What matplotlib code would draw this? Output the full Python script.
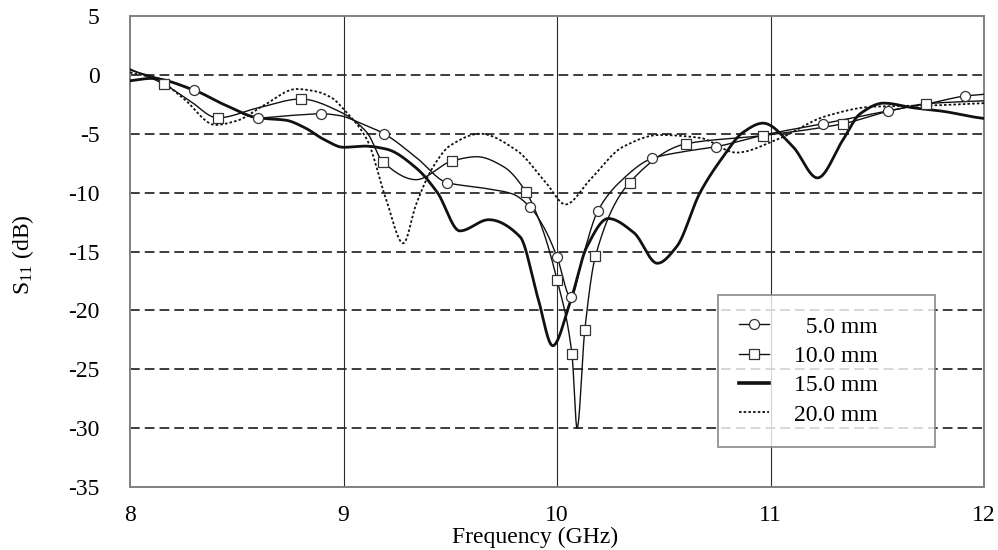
import numpy as np
import matplotlib
matplotlib.use("Agg")
import matplotlib.pyplot as plt
from matplotlib.lines import Line2D

plt.rcParams['font.family'] = ['Liberation Serif', 'DejaVu Serif']
plt.rcParams['mathtext.fontset'] = 'custom'
plt.rcParams['mathtext.rm'] = 'Liberation Serif'
plt.rcParams['mathtext.it'] = 'Liberation Serif:italic'
plt.rcParams['axes.unicode_minus'] = False

# ---- measured S11 curves (frequency in GHz, S11 in dB) ----
f_5mm = [8.00, 8.12, 8.30, 8.45, 8.60, 8.75, 8.895, 8.98, 9.08, 9.19, 9.34, 9.485,
         9.65, 9.79, 9.875, 9.94, 10.00, 10.065, 10.12, 10.19, 10.30, 10.445, 10.60,
         10.745, 10.97, 11.245, 11.40, 11.55, 11.75, 11.91, 12.00]
s_5mm = [0.4, -0.2, -1.25, -2.6, -3.65, -3.45, -3.3, -3.45, -4.1, -5.0, -7.0, -9.15,
         -9.6, -10.1, -11.25, -13.0, -15.45, -18.9, -15.5, -11.6, -9.0, -7.1, -6.5,
         -6.1, -5.1, -4.15, -3.6, -3.05, -2.4, -1.8, -1.65]
mark_5mm = [2, 4, 6, 9, 11, 14, 16, 17, 19, 21, 23, 25, 27, 29]

f_10mm = [8.00, 8.16, 8.28, 8.41, 8.60, 8.80, 8.98, 9.11, 9.185, 9.34, 9.51, 9.625,
          9.75, 9.855, 9.93, 10.00, 10.07, 10.094, 10.13, 10.18, 10.34, 10.605,
          10.965, 11.34, 11.55, 11.73, 12.00]
s_10mm = [0.5, -0.8, -2.2, -3.65, -2.8, -2.05, -3.1, -4.9, -7.4, -8.9, -7.3, -6.95,
          -7.8, -9.95, -13.0, -17.4, -23.7, -30.0, -21.7, -15.4, -9.15, -5.85,
          -5.15, -4.15, -3.1, -2.45, -2.2]
mark_10mm = [1, 3, 5, 8, 10, 13, 15, 16, 18, 19, 20, 21, 22, 23, 25]

f_15mm = [8.00, 8.10, 8.30, 8.45, 8.60, 8.73, 8.82, 8.91, 9.00, 9.10, 9.20, 9.34,
          9.44, 9.545, 9.68, 9.827, 9.91, 9.98, 10.06, 10.14, 10.24, 10.36, 10.47,
          10.56, 10.67, 10.78, 10.87, 10.965, 11.105, 11.22, 11.34, 11.42, 11.53,
          11.67, 11.81, 11.96, 12.00]
s_15mm = [-0.5, -0.3, -1.3, -2.6, -3.65, -3.85, -4.5, -5.5, -6.15, -6.05, -6.3, -7.9,
          -10.0, -13.25, -12.3, -13.75, -18.9, -23.0, -19.4, -14.6, -12.2, -13.4,
          -16.0, -14.6, -10.0, -6.9, -4.9, -4.1, -6.1, -8.75, -5.5, -3.3, -2.4,
          -2.8, -3.1, -3.6, -3.7]

f_20mm = [8.00, 8.12, 8.25, 8.40, 8.50, 8.63, 8.78, 8.87, 8.945, 9.00, 9.11, 9.20,
          9.28, 9.34, 9.42, 9.50, 9.64, 9.81, 9.95, 10.04, 10.155, 10.31, 10.48,
          10.67, 10.84, 11.03, 11.26, 11.48, 11.75, 12.00]
s_20mm = [0.2, -0.3, -2.0, -4.25, -3.9, -2.55, -1.2, -1.4, -1.95, -2.9, -5.5, -10.6,
          -14.3, -11.0, -7.8, -6.0, -5.0, -6.4, -9.2, -11.0, -8.9, -6.1, -5.1,
          -5.35, -6.6, -5.5, -3.5, -2.7, -2.6, -2.4]

labels = ['  5.0 mm', '10.0 mm', '15.0 mm', '20.0 mm']
x_ticks = [8, 9, 10, 11, 12]
y_ticks = [5, 0, -5, -10, -15, -20, -25, -30, -35]


def pchip(x, y, xs):
    """Shape-preserving piecewise cubic Hermite interpolation."""
    x = np.asarray(x, float)
    y = np.asarray(y, float)
    h = np.diff(x)
    d = np.diff(y) / h
    n = len(x)
    m = np.zeros(n)
    for k in range(1, n - 1):
        if d[k - 1] * d[k] > 0:
            w1 = 2 * h[k] + h[k - 1]
            w2 = h[k] + 2 * h[k - 1]
            m[k] = (w1 + w2) / (w1 / d[k - 1] + w2 / d[k])
    m[0] = d[0]
    m[-1] = d[-1]
    idx = np.clip(np.searchsorted(x, xs) - 1, 0, n - 2)
    t = (xs - x[idx]) / h[idx]
    h00 = 2 * t**3 - 3 * t**2 + 1
    h10 = t**3 - 2 * t**2 + t
    h01 = -2 * t**3 + 3 * t**2
    h11 = t**3 - t**2
    return (h00 * y[idx] + h10 * h[idx] * m[idx]
            + h01 * y[idx + 1] + h11 * h[idx] * m[idx + 1])


fig = plt.figure(figsize=(9.98, 5.5), dpi=100)
ax = fig.add_axes([130 / 998, 1 - 487 / 550, 854 / 998, 471 / 550])

fs = np.linspace(8, 12, 3000)
ink = '#111111'
thin = 1.0
mk = dict(markersize=7.2, markerfacecolor='white', markeredgecolor='#333333',
          markeredgewidth=0.9, linestyle='none', zorder=5)

# reference grid: dashed at every 5 dB, solid at each GHz
for yv in y_ticks[1:-1]:
    ax.axhline(yv, color='#3c3c3c', lw=1.4, ls=(0, (5, 2.6)), zorder=1)
for xv in x_ticks[1:-1]:
    ax.axvline(xv, color='#2a2a2a', lw=0.8, zorder=1)

ax.plot(fs, pchip(f_20mm, s_20mm, fs), color=ink, lw=1.3, ls=(0, (1.4, 1.2)), zorder=3)
ax.plot(fs, pchip(f_15mm, s_15mm, fs), color=ink, lw=2.0, zorder=3)
ax.plot(fs, pchip(f_10mm, s_10mm, fs), color=ink, lw=thin, zorder=4)
ax.plot(fs, pchip(f_5mm, s_5mm, fs), color=ink, lw=thin, zorder=4)

ax.plot(np.array(f_10mm)[mark_10mm], np.array(s_10mm)[mark_10mm], marker='s', **mk)
ax.plot(np.array(f_5mm)[mark_5mm], np.array(s_5mm)[mark_5mm], marker='o', **mk)

ax.set_xlim(8, 12)
ax.set_ylim(-35, 5)
ax.set_xticks(x_ticks)
ax.set_yticks(y_ticks)
ax.tick_params(axis='both', length=0, labelsize=17, colors='black')
ax.tick_params(axis='y', pad=22)
ax.tick_params(axis='x', pad=13)
for sp in ax.spines.values():
    sp.set_color('#808080')
    sp.set_linewidth(1.4)

ax.set_xlabel('Frequency (GHz)', fontsize=17)
ax.xaxis.set_label_coords((535 - 130) / 854, (487 - 537) / 471)
ax.xaxis.label.set_va('center')
ax.set_ylabel('S$_{11}$ (dB)', fontsize=17)
ax.yaxis.set_label_coords((23 - 130) / 854, (487 - 255) / 471)
ax.yaxis.label.set_va('center')

handles = [
    Line2D([], [], color=ink, lw=thin, marker='o', markersize=7.2,
           markerfacecolor='white', markeredgecolor='#333333', markeredgewidth=0.9),
    Line2D([], [], color=ink, lw=thin, marker='s', markersize=7.2,
           markerfacecolor='white', markeredgecolor='#333333', markeredgewidth=0.9),
    Line2D([], [], color=ink, lw=2.6),
    Line2D([], [], color=ink, lw=1.3, ls=(0, (1.4, 1.2))),
]
leg = ax.legend(handles, labels, loc='upper left',
                bbox_to_anchor=(0.688, 0.085, 0.255, 0.323), mode='expand',
                fontsize=17, frameon=True, fancybox=False, borderpad=0.9,
                labelspacing=0.33, handlelength=1.3, handletextpad=1.05,
                borderaxespad=0)
leg.get_frame().set_edgecolor('#808080')
leg.get_frame().set_linewidth(1.4)
leg.set_zorder(10)

fig.savefig('out.png', dpi=100, facecolor='white')
